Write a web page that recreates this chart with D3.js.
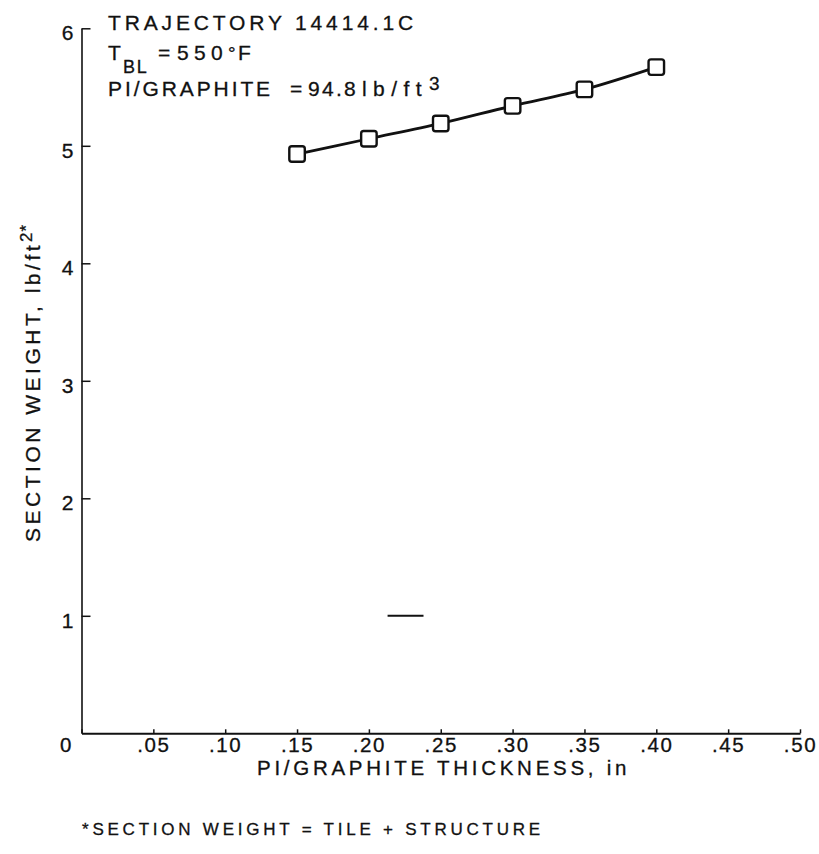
<!DOCTYPE html>
<html>
<head>
<meta charset="utf-8">
<script src="https://cdn.jsdelivr.net/npm/d3@7"></script>
<style>
  body { margin: 0; background: #fff; }
  svg { display: block; }
  text { font-family: "Liberation Sans", Arial, Helvetica, sans-serif; fill: #111; stroke: #111; stroke-width: 0.3px; }
</style>
</head>
<body>
<svg id="chart" width="819" height="854"></svg>
<script>
// PI/graphite thickness (in) vs. section weight (lb/ft^2)
const thickness = [0.15, 0.20, 0.25, 0.30, 0.35, 0.40];
const sectionWeight = [4.93, 5.06, 5.19, 5.34, 5.48, 5.67];

const xTickValues = [0, 0.05, 0.10, 0.15, 0.20, 0.25, 0.30, 0.35, 0.40, 0.45, 0.50];
const xTickLabels = ["0", ".05", ".10", ".15", ".20", ".25", ".30", ".35", ".40", ".45", ".50"];
const yTickValues = [1, 2, 3, 4, 5, 6];
const yTickLabels = ["1", "2", "3", "4", "5", "6"];

// short stray dash at the 1 lb/ft^2 level
const dashThickness = [0.213, 0.238];
const dashWeight = [1, 1];

const svg = d3.select("#chart");
const ink = "#111";

// spread a text run so that its advance equals the given width
function fit(node, width) {
  node.setAttribute("letter-spacing", 0);
  const w = node.getComputedTextLength();
  const n = node.textContent.length;
  node.setAttribute("letter-spacing", ((width - w) / n).toFixed(2));
}

function label(px, py, str, size, attrs = {}) {
  const t = svg.append("text").attr("x", px).attr("y", py).attr("font-size", size).text(str);
  Object.entries(attrs).forEach(([k, v]) => t.attr(k, v));
  return t;
}

const x = d3.scaleLinear().domain([0, 0.5]).range([81.5, 800]);
const y = d3.scaleLinear().domain([0, 6]).range([733.3, 28.3]);

// x axis: ticks point up into the plot
const gx = svg.append("g")
  .attr("transform", `translate(0,${y(0)})`)
  .call(d3.axisBottom(x)
    .tickValues(xTickValues)
    .tickFormat((d, i) => xTickLabels[i])
    .tickSize(-4)
    .tickSizeOuter(0)
    .tickPadding(4));
gx.select(".domain").attr("stroke", ink).attr("stroke-width", 2);
gx.selectAll(".tick line").attr("stroke", ink).attr("stroke-width", 1.5);
gx.selectAll(".tick text")
  .attr("font-size", 20.5)
  .attr("letter-spacing", 1.6)
  .attr("fill", ink)
  .attr("dx", (d, i) => i === 0 ? -15.5 : 0);

// y axis: ticks point right into the plot
const gy = svg.append("g")
  .attr("transform", `translate(${x(0)},0)`)
  .call(d3.axisLeft(y)
    .tickValues(yTickValues)
    .tickFormat((d, i) => yTickLabels[i])
    .tickSize(-9)
    .tickSizeOuter(0)
    .tickPadding(8));
gy.select(".domain").attr("stroke", ink).attr("stroke-width", 1.6);
gy.selectAll(".tick line").attr("stroke", ink).attr("stroke-width", 1.5);
gy.selectAll(".tick text")
  .attr("font-size", 21)
  .attr("dy", "0.55em")
  .attr("fill", ink);

// data line
const pts = thickness.map((t, i) => [t, sectionWeight[i]]);
svg.append("path")
  .datum(pts)
  .attr("fill", "none")
  .attr("stroke", ink)
  .attr("stroke-width", 2.8)
  .attr("d", d3.line().x(d => x(d[0])).y(d => y(d[1])).curve(d3.curveMonotoneX));

// square markers
const sq = 15.5;
svg.append("g").selectAll("rect")
  .data(pts)
  .join("rect")
  .attr("x", d => x(d[0]) - sq / 2)
  .attr("y", d => y(d[1]) - sq / 2)
  .attr("width", sq)
  .attr("height", sq)
  .attr("rx", 2.5)
  .attr("fill", "#fff")
  .attr("stroke", ink)
  .attr("stroke-width", 2.4);

// stray dash
svg.append("line")
  .attr("x1", x(dashThickness[0])).attr("x2", x(dashThickness[1]))
  .attr("y1", y(dashWeight[0])).attr("y2", y(dashWeight[1]))
  .attr("stroke", ink).attr("stroke-width", 2);

// annotation block
fit(label(108, 30, "TRAJECTORY 14414.1C", 21).node(), 309);

label(108, 60, "T", 21);
label(123, 73, "BL", 18, { "letter-spacing": 1.8 });
label(158, 60, "=", 21);
fit(label(177, 60, "550", 21).node(), 51);
label(228, 60, "\u00B0", 19);
label(238, 60, "F", 21);

fit(label(108, 96, "PI/GRAPHITE", 21).node(), 165);
label(290, 96, "=", 21);
fit(label(308, 96, "94.8", 21).node(), 50);
fit(label(362, 96, "lb/ft", 21).node(), 66);
label(429, 90, "3", 19);

// axis titles
fit(label(257, 775, "PI/GRAPHITE THICKNESS, in", 20.5).node(), 373);

const yl = svg.append("text")
  .attr("transform", "translate(40,542) rotate(-90)")
  .attr("font-size", 21);
const ylMain = yl.append("tspan").text("SECTION WEIGHT, lb/ft");
yl.append("tspan").attr("dy", -8).attr("font-size", 17).attr("letter-spacing", 1).text("2*");
fit(ylMain.node(), 300);

// footnote
fit(label(82, 835, "*SECTION WEIGHT = TILE + STRUCTURE", 17).node(), 462);
</script>
</body>
</html>
